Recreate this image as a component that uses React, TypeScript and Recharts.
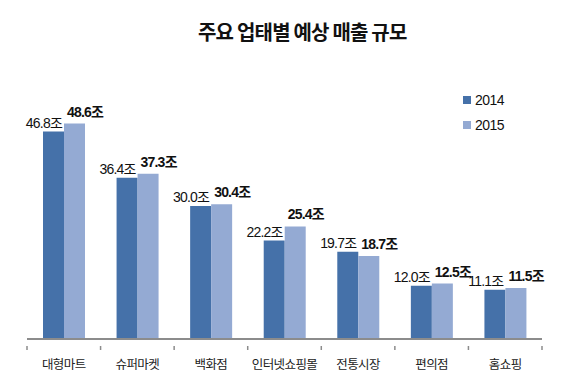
import React from 'react';
import { BarChart, Bar, XAxis, YAxis, LabelList } from 'recharts';

const categories = ['대형마트', '슈퍼마켓', '백화점', '인터넷쇼핑몰', '전통시장', '편의점', '홈쇼핑'];
const sales2014 = [46.8, 36.4, 30.0, 22.2, 19.7, 12.0, 11.1];
const sales2015 = [48.6, 37.3, 30.4, 25.4, 18.7, 12.5, 11.5];
const seriesNames = ['2014', '2015'];

const data = categories.map((name, i) => ({
  name,
  y2014: sales2014[i],
  y2015: sales2015[i]
}));

const W = 565;
const H = 376;
const MARGIN = { top: 73, right: 23, left: 27, bottom: 0 };
const BAND = (W - MARGIN.left - MARGIN.right) / categories.length;

const DARK = '#4571a9';
const LIGHT = '#94aad3';
const NUM_FONT = "'Liberation Sans', Arial, 'Noto Sans CJK KR', sans-serif";
const KR_FONT = "'Noto Sans CJK KR', sans-serif";

const CategoryTick = (props: any) => {
  const { x, y, payload, index } = props;
  const left = x - BAND / 2;
  return (
    <g>
      <line x1={left} y1={y - 1} x2={left} y2={y + 3} stroke="#8c8c8c" strokeWidth={1.5} />
      {index === categories.length - 1 && (
        <line x1={x + BAND / 2} y1={y - 1} x2={x + BAND / 2} y2={y + 3} stroke="#8c8c8c" strokeWidth={1.5} />
      )}
      <text x={x} y={y + 22} textAnchor="middle" fontSize={12.5} fill="#222" fontFamily={KR_FONT} letterSpacing={-0.6}>
        {payload.value}
      </text>
    </g>
  );
};

const label2014 = (props: any) => {
  const { x, y, width, value } = props;
  return (
    <text x={x + width - 2} y={y - 4} textAnchor="end" fontSize={14} fill="#111" fontFamily={NUM_FONT} letterSpacing={-0.8}>
      {Number(value).toFixed(1)}조
    </text>
  );
};

const label2015 = (props: any) => {
  const { x, y, value } = props;
  return (
    <text x={x + 3} y={y - 7} textAnchor="start" fontSize={14} fontWeight="bold" fill="#111" fontFamily={NUM_FONT} letterSpacing={-0.8}>
      {Number(value).toFixed(1)}조
    </text>
  );
};

export default function App() {
  return (
    <div style={{ position: 'absolute', left: 0, top: 0, width: W, height: H, background: '#fff' }}>
      <div
        style={{
          position: 'absolute',
          left: 198,
          top: 19,
          fontFamily: KR_FONT,
          fontSize: 20,
          fontWeight: 700,
          letterSpacing: -0.8,
          lineHeight: '26px',
          color: '#111',
          whiteSpace: 'nowrap'
        }}
      >
        주요 업태별 예상 매출 규모
      </div>
      <div style={{ position: 'absolute', left: 463, top: 87, fontFamily: NUM_FONT, fontSize: 14, color: '#111', letterSpacing: -0.5 }}>
        {seriesNames.map((s, i) => (
          <div key={s} style={{ display: 'flex', alignItems: 'center', height: 25 }}>
            <span style={{ width: 8, height: 8, background: i === 0 ? DARK : LIGHT, marginRight: 4 }} />
            <span>{s}</span>
          </div>
        ))}
      </div>
      <BarChart width={W} height={H} data={data} margin={MARGIN} barCategoryGap={16} barGap={0}>
        <XAxis
          dataKey="name"
          height={37}
          axisLine={{ stroke: '#8c8c8c', strokeWidth: 2 }}
          tickLine={false}
          tick={<CategoryTick />}
          interval={0}
        />
        <YAxis hide domain={[0, 60]} />
        <Bar dataKey="y2014" name="2014" fill={DARK} isAnimationActive={false}>
          <LabelList dataKey="y2014" content={label2014} />
        </Bar>
        <Bar dataKey="y2015" name="2015" fill={LIGHT} isAnimationActive={false}>
          <LabelList dataKey="y2015" content={label2015} />
        </Bar>
      </BarChart>
    </div>
  );
}
